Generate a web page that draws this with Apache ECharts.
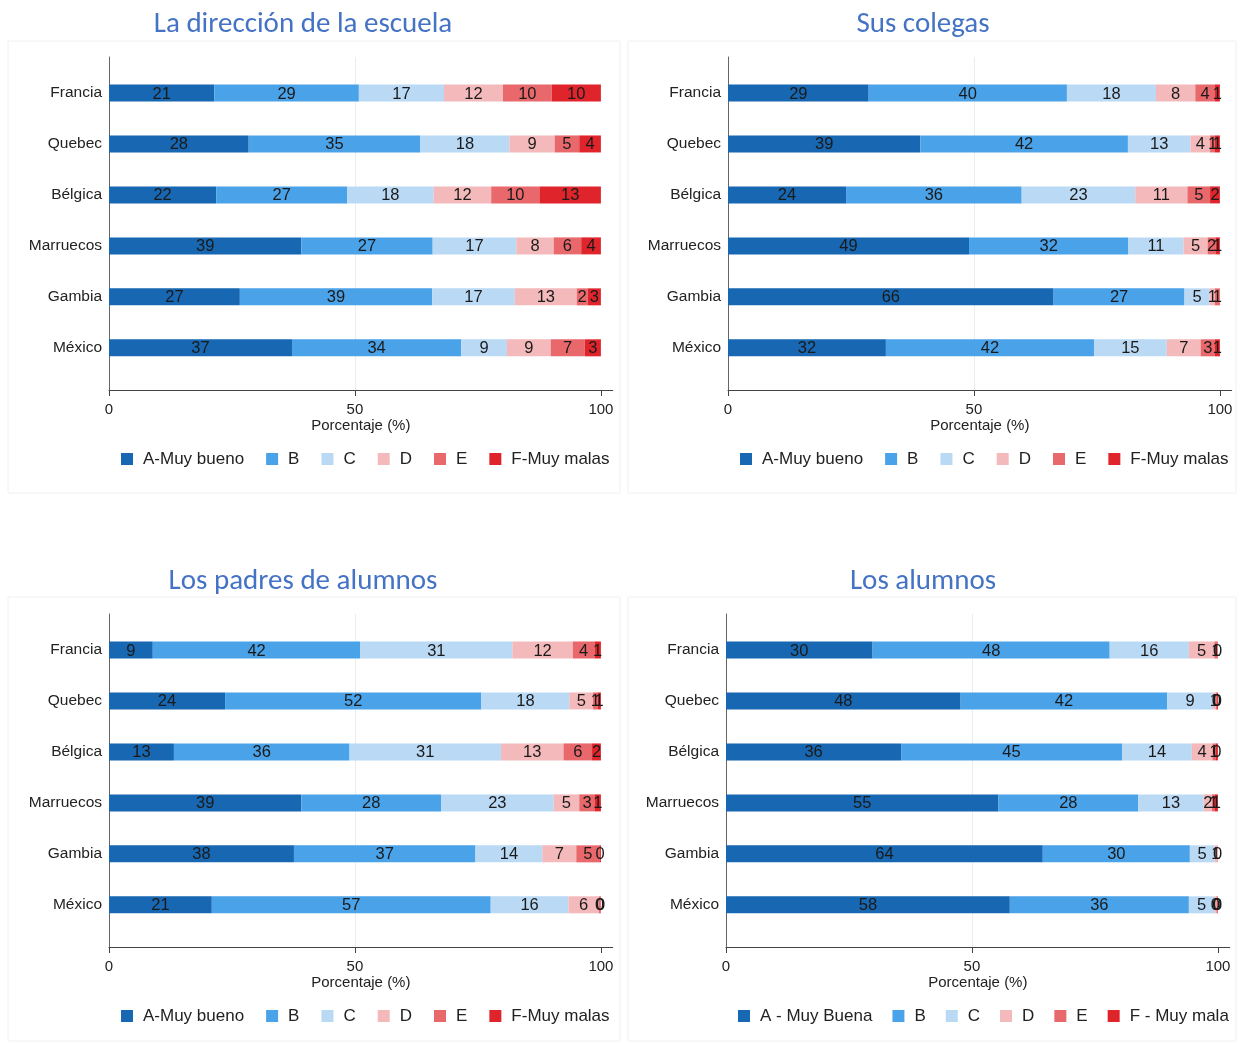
<!DOCTYPE html>
<html><head><meta charset="utf-8">
<script src="https://cdn.jsdelivr.net/npm/echarts@6/dist/echarts.min.js"></script>
<style>html,body{margin:0;padding:0;background:#fff}#c{width:1241px;height:1043px}</style>
</head><body><div id="c"></div>
<script>
// ---------- categories, labels ----------
const countries = ['Francia', 'Quebec', 'Bélgica', 'Marruecos', 'Gambia', 'México'];
const levelsMain = ['A-Muy bueno', 'B', 'C', 'D', 'E', 'F-Muy malas'];
const levelsAlumnos = ['A - Muy Buena', 'B', 'C', 'D', 'E', 'F - Muy mala'];
const panelTitles = ['La dirección de la escuela', 'Sus colegas', 'Los padres de alumnos', 'Los alumnos'];
const tickValues = [0, 50, 100];
const axisTitle = 'Porcentaje (%)';

// ---------- values (%), rows follow `countries` ----------
// La dirección de la escuela
const direccion_A = [21.4, 28.4, 21.8, 39.1, 26.6, 37.2];
const direccion_B = [29.4, 34.9, 26.6, 26.7, 39.1, 34.4];
const direccion_C = [17.3, 18.1, 17.6, 17.0, 16.8, 9.3];
const direccion_D = [12.0, 9.2, 11.7, 7.6, 12.6, 8.9];
const direccion_E = [9.9, 5.0, 9.8, 5.6, 2.2, 6.9];
const direccion_F = [10.0, 4.4, 12.5, 4.0, 2.7, 3.3];
// Sus colegas
const colegas_A = [28.6, 39.1, 24.0, 49.0, 66.2, 32.1];
const colegas_B = [40.3, 42.2, 35.7, 32.4, 26.6, 42.3];
const colegas_C = [18.1, 12.7, 23.1, 11.2, 5.1, 14.8];
const colegas_D = [8.0, 4.0, 10.6, 4.9, 1.1, 6.9];
const colegas_E = [4.0, 1.0, 4.6, 1.6, 1.0, 2.9];
const colegas_F = [1.0, 1.0, 2.0, 0.9, 0, 1.0];
// Los padres de alumnos
const padres_A = [8.9, 23.6, 13.2, 39.1, 37.6, 20.9];
const padres_B = [42.2, 52.1, 35.7, 28.4, 36.9, 56.7];
const padres_C = [30.9, 17.9, 30.8, 22.9, 13.6, 15.8];
const padres_D = [12.3, 4.8, 12.7, 5.2, 6.9, 6.2];
const padres_E = [4.4, 0.9, 5.8, 3.2, 4.7, 0.3];
const padres_F = [1.3, 0.7, 1.8, 1.2, 0.3, 0.1];
// Los alumnos
const alumnos_A = [29.8, 47.7, 35.6, 55.4, 64.4, 57.7];
const alumnos_B = [48.2, 42.0, 44.9, 28.4, 29.9, 36.4];
const alumnos_C = [16.1, 9.3, 14.2, 13.3, 5.0, 5.2];
const alumnos_D = [5.2, 0.6, 4.2, 1.7, 0.6, 0.4];
const alumnos_E = [0.6, 0.2, 0.7, 0.6, 0.1, 0.2];
const alumnos_F = [0.1, 0.2, 0.4, 0.6, 0, 0.1];

const panelData = [
  [direccion_A, direccion_B, direccion_C, direccion_D, direccion_E, direccion_F],
  [colegas_A, colegas_B, colegas_C, colegas_D, colegas_E, colegas_F],
  [padres_A, padres_B, padres_C, padres_D, padres_E, padres_F],
  [alumnos_A, alumnos_B, alumnos_C, alumnos_D, alumnos_E, alumnos_F]
];
const panelLevels = [levelsMain, levelsMain, levelsMain, levelsAlumnos];

// ---------- style ----------
const colors = ['#1767b2', '#4aa2e8', '#b9d9f5', '#f3b9bb', '#e8686c', '#df252b'];
const FONT = '"Liberation Sans", Arial, sans-serif';
const TITLE_FONT = 'Carlito, Lato, sans-serif';
const XMAX = 102.4;

// layout per panel
const layout = [
  { left: 109, dy: 0,   box: [8, 41, 612, 452],    titleX: 303, titleY: 25,  legendLeft: 121, legendGap: 22 },
  { left: 728, dy: 0,   box: [628, 41, 608, 452],  titleX: 923, titleY: 25,  legendLeft: 740, legendGap: 22 },
  { left: 109, dy: 557, box: [8, 597, 612, 444],   titleX: 303, titleY: 582, legendLeft: 121, legendGap: 22 },
  { left: 726, dy: 557, box: [628, 597, 608, 444], titleX: 923, titleY: 582, legendLeft: 738, legendGap: 20 }
];

const grid = [], xAxis = [], yAxis = [], series = [], legend = [], graphic = [];

layout.forEach((L, p) => {
  const gA = grid.length;
  grid.push({ left: L.left, width: 503.7, top: 67.5 + L.dy, height: 305.8 });
  grid.push({ left: L.left, width: 503.7, top: 57 + L.dy, height: 333 });
  // bars axes
  xAxis.push({ gridIndex: gA, type: 'value', min: 0, max: XMAX, show: false });
  yAxis.push({
    gridIndex: gA, type: 'category', data: countries, inverse: true,
    axisLine: { show: false }, axisTick: { show: false },
    axisLabel: { fontSize: 15.5, color: '#222', fontFamily: FONT, margin: 7 }
  });
  // frame axes
  xAxis.push({
    gridIndex: gA + 1, type: 'value', min: 0, max: XMAX, interval: 50,
    axisLine: { show: true, lineStyle: { color: '#444', width: 1 } },
    axisTick: { show: true, length: 6, customValues: tickValues, lineStyle: { color: '#444' } },
    axisLabel: { customValues: tickValues, fontSize: 15, color: '#222', fontFamily: FONT, margin: 12 },
    splitLine: { show: true, showMinLine: false, showMaxLine: false, lineStyle: { color: '#ececec', width: 1 } },
    name: axisTitle, nameLocation: 'middle', nameGap: 28,
    nameTextStyle: { fontSize: 15, color: '#222', fontFamily: FONT }
  });
  yAxis.push({
    gridIndex: gA + 1, type: 'value', min: 0, max: 1,
    axisLine: { show: true, lineStyle: { color: '#666', width: 1 } },
    axisTick: { show: false }, axisLabel: { show: false }, splitLine: { show: false }
  });

  panelData[p].forEach((vals, k) => {
    series.push({
      type: 'bar', name: panelLevels[p][k], stack: 'panel' + p,
      xAxisIndex: gA, yAxisIndex: gA, barWidth: 17,
      itemStyle: { color: colors[k] },
      label: {
        show: true, position: 'inside', fontSize: 16.5, color: '#1a1a1a', fontFamily: FONT,
        offset: [0, 1],
        formatter: (d) => d.value === 0 ? '' : String(Math.round(d.value))
      },
      emphasis: { disabled: true },
      data: vals
    });
  });

  legend.push({
    left: L.legendLeft, top: 450.5 + L.dy, orient: 'horizontal', padding: 0,
    icon: 'rect', itemWidth: 12, itemHeight: 12, itemGap: L.legendGap,
    textStyle: { fontSize: 17, color: '#222', fontFamily: FONT, padding: [0, 0, 0, 5] },
    data: panelLevels[p]
  });

  graphic.push({
    type: 'rect', z: -10, silent: true,
    shape: { x: L.box[0], y: L.box[1], width: L.box[2], height: L.box[3] },
    style: { fill: 'none', stroke: '#f0f0f0', lineWidth: 1 }
  });
  graphic.push({
    type: 'text', silent: true, x: L.titleX, y: L.titleY,
    style: { text: panelTitles[p], fill: '#4472c4', font: '29px ' + TITLE_FONT, textAlign: 'center', textVerticalAlign: 'middle' }
  });
});

const chart = echarts.init(document.getElementById('c'), null, { renderer: 'canvas' });
chart.setOption({
  animation: false,
  backgroundColor: '#fff',
  grid, xAxis, yAxis, series, legend, graphic
});
</script>
</body></html>
